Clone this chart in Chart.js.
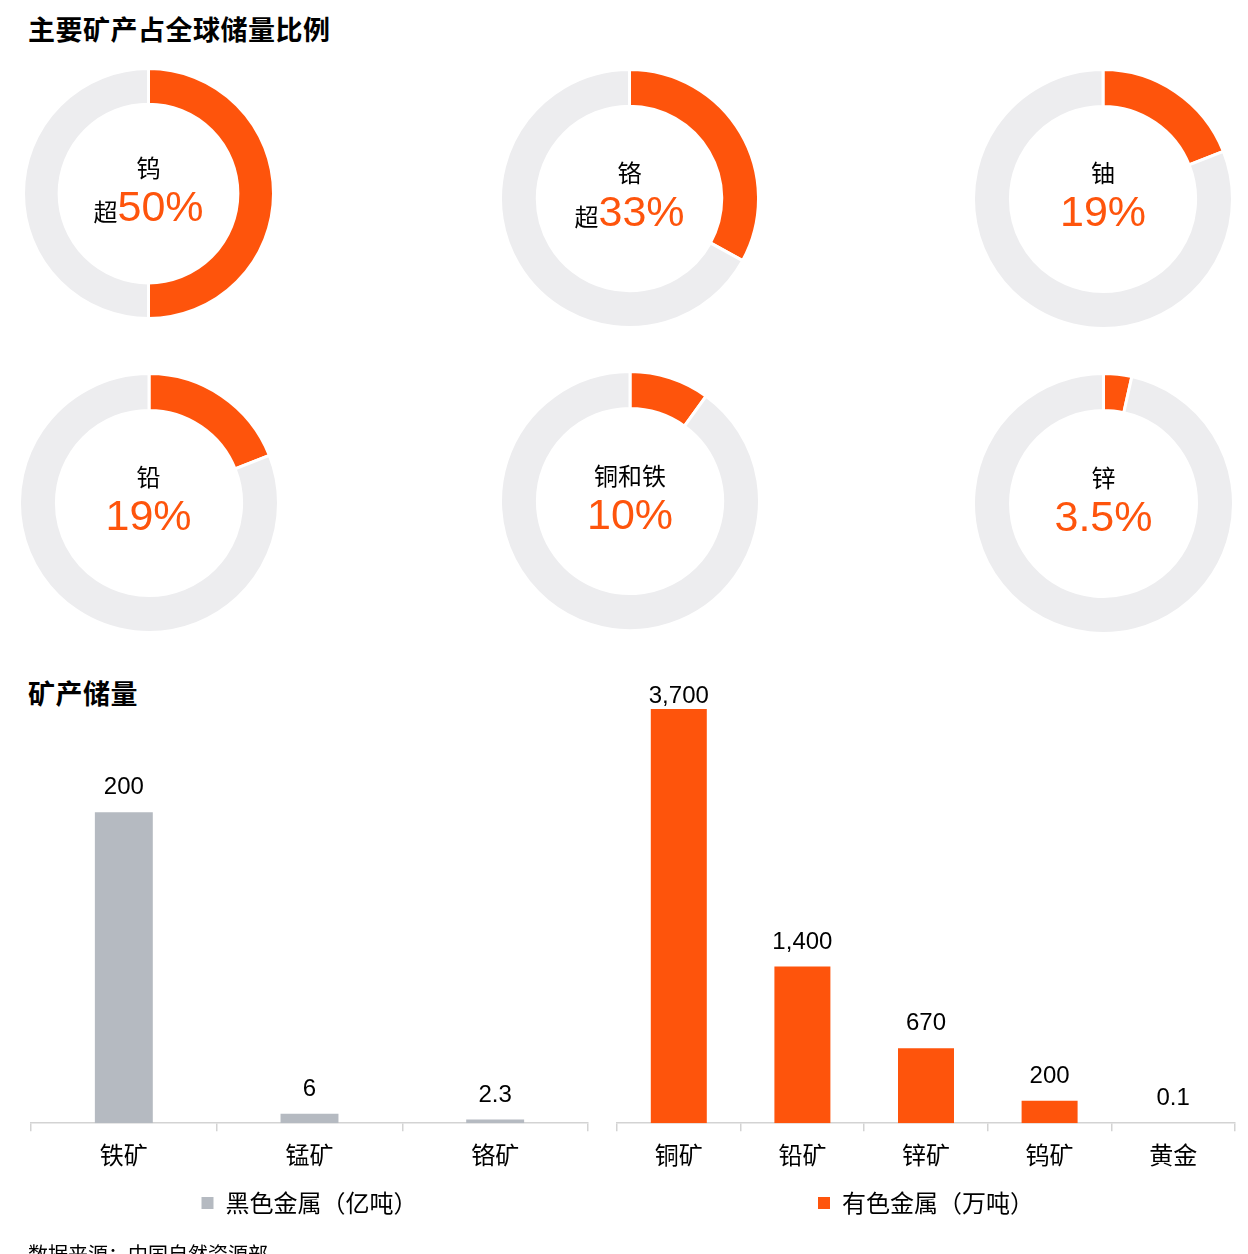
<!DOCTYPE html>
<html>
<head>
<meta charset="utf-8">
<script src="https://cdn.jsdelivr.net/npm/chart.js@4/dist/chart.umd.min.js"></script>
<style>
  html, body { margin: 0; padding: 0; background: #fff; }
  #wrap { position: relative; width: 1248px; height: 1254px; overflow: hidden; background: #fff;
          font-family: "Liberation Sans", "Noto Sans CJK SC", sans-serif; color: #000; }
  .title { position: absolute; left: 28px; font-family: "Noto Sans CJK SC", sans-serif; font-weight: 700;
           font-size: 27px; letter-spacing: 0.5px; line-height: 1; transform: translateY(-50%); white-space: nowrap; }
  .donut { position: absolute; }
  .donut canvas { position: absolute; left: 0; top: 0; }
  .dlabel { position: absolute; left: 50%; transform: translate(-50%, -50%); font-size: 24px; line-height: 1;
            white-space: nowrap; font-family: "Noto Sans CJK SC", sans-serif; }
  .dpct { position: absolute; left: 50%; transform: translate(-50%, -50%); line-height: 1; white-space: nowrap; }
  .dpct .pre { font-family: "Noto Sans CJK SC", sans-serif; font-size: 24px; color: #000; }
  .dpct .num { font-family: "Liberation Sans", sans-serif; font-size: 43px; color: #FE540C; }
  .barbox { position: absolute; }
  .note { position: absolute; left: 28px; top: 1244px; font-size: 20px; line-height: 1;
          font-family: "Noto Sans CJK SC", sans-serif; white-space: nowrap; }
</style>
</head>
<body>
<div id="wrap">
  <div class="title" style="top:28px">主要矿产占全球储量比例</div>
  <div class="title" style="top:692px">矿产储量</div>
  <div class="barbox" style="left:0;top:640px;width:600px;height:614px"><canvas id="barL" width="600" height="614"></canvas></div>
  <div class="barbox" style="left:600px;top:640px;width:648px;height:614px"><canvas id="barR" width="648" height="614"></canvas></div>
  <div class="note">数据来源：中国自然资源部</div>
</div>
<script>
// ---- data ----
const donutNames   = ['钨', '铬', '铀', '铅', '铜和铁', '锌'];
const donutShares  = [50, 33, 19, 19, 10, 3.5];
const donutPrefix  = ['超', '超', '', '', '', ''];

const ferrousCats   = ['铁矿', '锰矿', '铬矿'];
const ferrousValues = [200, 6, 2.3];
const ferrousName   = '黑色金属（亿吨）';

const nonferrousCats   = ['铜矿', '铅矿', '锌矿', '钨矿', '黄金'];
const nonferrousValues = [3700, 1400, 670, 200, 0.1];
const nonferrousName   = '有色金属（万吨）';

// ---- styling / layout ----
const ORANGE = '#FE540C';
const RING_GRAY = '#EDEDEF';
const BAR_GRAY = '#B5BAC1';
const AXIS_GRAY = '#D3D3D3';
// doughnut placement: centre x, centre y, visible outer radius
const donutPlaces = [
  [148.5, 193.5, 123.5], [629.5, 198.5, 127.5], [1103, 198.5, 128],
  [148.5, 502.5, 128],   [630, 501, 128],       [1103.5, 503.5, 128.5]
];
const BORDER = 3;

const wrap = document.getElementById('wrap');
donutNames.forEach((name, i) => {
  const [cx, cy, r] = donutPlaces[i];
  const R = r + BORDER / 2;
  const size = Math.round(2 * R + BORDER);
  const box = document.createElement('div');
  box.className = 'donut';
  box.style.left = (cx - size / 2) + 'px';
  box.style.top = (cy - size / 2) + 'px';
  box.style.width = size + 'px';
  box.style.height = size + 'px';
  const cv = document.createElement('canvas');
  cv.width = size; cv.height = size;
  box.appendChild(cv);
  const lab = document.createElement('div');
  lab.className = 'dlabel';
  lab.style.top = (size / 2 - 26.5) + 'px';
  lab.textContent = name;
  box.appendChild(lab);
  const pct = document.createElement('div');
  pct.className = 'dpct';
  pct.style.top = (size / 2 + 12.5) + 'px';
  if (donutPrefix[i]) {
    const s = document.createElement('span'); s.className = 'pre'; s.textContent = donutPrefix[i]; pct.appendChild(s);
  }
  const n = document.createElement('span'); n.className = 'num'; n.textContent = donutShares[i] + '%'; pct.appendChild(n);
  box.appendChild(pct);
  wrap.appendChild(box);

  new Chart(cv, {
    type: 'doughnut',
    data: {
      labels: [name, ''],
      datasets: [{
        data: [donutShares[i], 100 - donutShares[i]],
        backgroundColor: [ORANGE, RING_GRAY],
        borderColor: '#ffffff',
        borderWidth: BORDER
      }]
    },
    options: {
      responsive: false,
      animation: false,
      cutout: '71.5%',
      plugins: { legend: { display: false }, tooltip: { enabled: false } },
      layout: { padding: 0 }
    }
  });
});

// value labels above bars
const valueLabels = {
  id: 'valueLabels',
  afterDatasetsDraw(chart) {
    const ctx = chart.ctx;
    ctx.save();
    ctx.font = '24px "Liberation Sans", sans-serif';
    ctx.fillStyle = '#000';
    ctx.textAlign = 'center';
    ctx.textBaseline = 'alphabetic';
    chart.data.datasets.forEach((ds, di) => {
      chart.getDatasetMeta(di).data.forEach((bar, j) => {
        const y = Math.max(bar.y - 18, chart.chartArea.top + 23);
        ctx.fillText(ds.data[j].toLocaleString('en-US'), bar.x, y);
      });
    });
    ctx.restore();
  }
};

function barChart(id, cats, values, name, color, yMax, frac, padL, padR) {
  return new Chart(document.getElementById(id), {
    type: 'bar',
    data: {
      labels: cats,
      datasets: [{ label: name, data: values, backgroundColor: color, borderWidth: 0,
                   categoryPercentage: 1, barPercentage: frac }]
    },
    options: {
      responsive: false,
      animation: false,
      layout: { padding: { top: 40, left: padL, right: padR, bottom: 29 } },
      scales: {
        x: {
          grid: { display: true, drawOnChartArea: false, drawTicks: true, tickLength: 8, color: AXIS_GRAY, lineWidth: 1.5, offset: true },
          border: { display: true, color: AXIS_GRAY, width: 1.5 },
          ticks: { color: '#000', padding: 9, font: { size: 24, family: '"Noto Sans CJK SC", sans-serif' } }
        },
        y: { display: false, min: 0, max: yMax }
      },
      plugins: {
        legend: {
          position: 'bottom',
          labels: { boxWidth: 12, boxHeight: 12, padding: 13, color: '#000',
                    font: { size: 24, family: '"Noto Sans CJK SC", sans-serif' } }
        },
        tooltip: { enabled: false }
      }
    },
    plugins: [valueLabels]
  });
}

barChart('barL', ferrousCats, ferrousValues, ferrousName, BAR_GRAY, 285, 0.312, 31, 12);
barChart('barR', nonferrousCats, nonferrousValues, nonferrousName, ORANGE, 3960, 0.453, 17, 13);
</script>
</body>
</html>
